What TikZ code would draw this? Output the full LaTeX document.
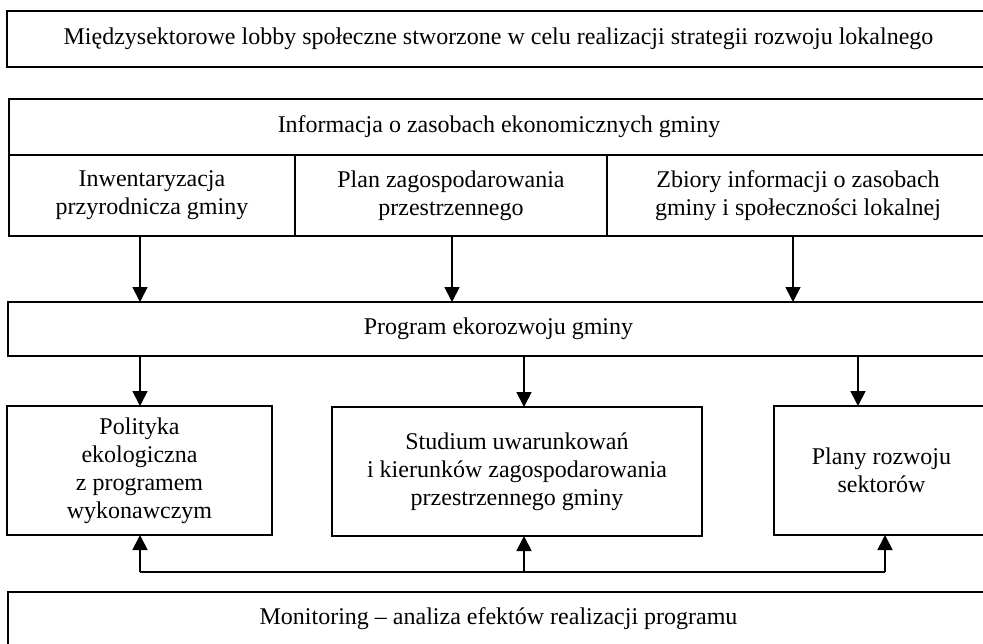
\documentclass[tikz,border=0pt]{standalone}
\usepackage{fontspec}
\setmainfont{Liberation Serif}
\usetikzlibrary{arrows.meta}
\begin{document}
\begin{tikzpicture}[x=1pt,y=-1pt,
  box/.style={draw,line width=1.8pt,inner sep=0pt,outer sep=0pt,anchor=north west,align=center,
    font=\fontsize{24}{28}\selectfont},
  arr/.style={line width=1.8pt,-{Triangle[width=15pt,length=15pt]}},
  link/.style={line width=1.8pt}]
\useasboundingbox (0,0) rectangle (983,643);
\clip (0,0) rectangle (983,643);

% headline box
\node[box,minimum width=983pt,minimum height=56pt] (lobby) at (7,11)
  {Międzysektorowe lobby społeczne stworzone w celu realizacji strategii rozwoju lokalnego};

% information block with three sources
\node[box,minimum width=980pt,minimum height=56pt] (info) at (9,99)
  {Informacja o zasobach ekonomicznych gminy};
\node[box,minimum width=286pt,minimum height=81pt] (inw) at (9,155)
  {Inwentaryzacja\\przyrodnicza gminy};
\node[box,minimum width=312pt,minimum height=81pt] (plan) at (295,155)
  {Plan zagospodarowania\\przestrzennego};
\node[box,minimum width=382pt,minimum height=81pt] (zb) at (607,155)
  {Zbiory informacji o zasobach\\gminy i społeczności lokalnej};

% programme
\node[box,minimum width=981pt,minimum height=54pt] (prog) at (8,302)
  {Program ekorozwoju gminy};

% documents derived from the programme
\node[box,minimum width=265pt,minimum height=129pt] (pol) at (7,406)
  {Polityka\\ekologiczna\\z programem\\wykonawczym};
\node[box,minimum width=370pt,minimum height=129pt] (stud) at (332,407)
  {Studium uwarunkowań\\i kierunków zagospodarowania\\przestrzennego gminy};
\node[box,minimum width=215pt,minimum height=129pt] (plany) at (774,406)
  {Plany rozwoju\\sektorów};

% monitoring
\node[box,minimum width=981pt,text height=32pt,text depth=40pt] (mon) at (8,592)
  {Monitoring – analiza efektów realizacji programu};

% arrow columns
\coordinate (a1) at (140,0);
\coordinate (a2) at (452,0);
\coordinate (a3) at (793,0);
\coordinate (b2) at (524,0);
\coordinate (b3) at (858,0);
\coordinate (f1) at (140,572);
\coordinate (f2) at (524,572);
\coordinate (f3) at (885,572);

\draw[arr] (inw.south -| a1) -- (prog.north -| a1);
\draw[arr] (plan.south -| a2) -- (prog.north -| a2);
\draw[arr] (zb.south -| a3) -- (prog.north -| a3);

\draw[arr] (prog.south -| a1) -- (pol.north -| a1);
\draw[arr] (prog.south -| b2) -- (stud.north -| b2);
\draw[arr] (prog.south -| b3) -- (plany.north -| b3);

% feedback line
\draw[link] (f1) -- (f3);
\draw[arr] (f1) -- (pol.south -| f1);
\draw[arr] (f2) -- (stud.south -| f2);
\draw[arr] (f3) -- (plany.south -| f3);
\end{tikzpicture}
\end{document}
